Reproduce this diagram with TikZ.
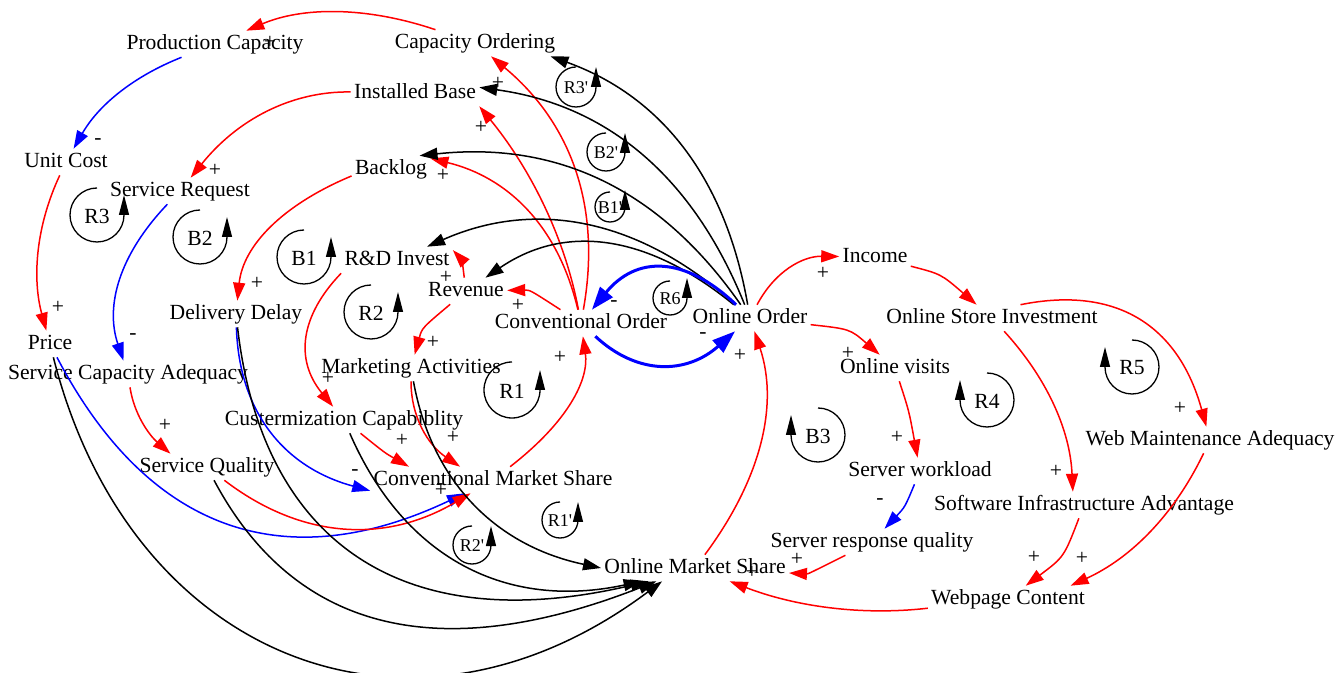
\documentclass[tikz,border=0pt]{standalone}
\usepackage{fontspec}
\setmainfont{Liberation Serif}
\usetikzlibrary{arrows.meta}
\definecolor{PosClr}{rgb}{1,0,0}
\definecolor{NegClr}{rgb}{0,0,1}

\begin{document}
\begin{tikzpicture}[x=0.5pt,y=-0.5pt,
  var/.style={inner sep=1.5pt,text height=7.5pt,text depth=2.4pt,font=\fontsize{10.8}{12}\selectfont},
  sgn/.style={inner sep=0pt,font=\fontsize{10.8}{12}\selectfont},
  lnk/.style={line width=0.75pt,-{Triangle[length=9pt,width=6pt]}},
  plink/.style={lnk,PosClr},
  nlink/.style={lnk,NegClr},
  olink/.style={lnk,black},
  thick link/.style={line width=1.5pt,NegClr,-{Triangle[length=11.5pt,width=8pt]}},
  cldloop/.style={line width=0.65pt,-{Triangle[length=10pt,width=5pt]}},
  looplab/.style={inner sep=0pt,font=\fontsize{10.8}{12}\selectfont},
  smalllab/.style={inner sep=0pt,font=\fontsize{9}{10}\selectfont}]

\useasboundingbox (0,0) rectangle (1339,673);

% variables
\node[var] (pc)   at (215,44)   {Production Capacity};
\node[var] (co)   at (475,43)   {Capacity Ordering};
\node[var] (ib)   at (415,93)   {Installed Base};
\node[var] (uc)   at (66,162)   {Unit Cost};
\node[var] (sr)   at (180,191)  {Service Request};
\node[var] (bl)   at (391,169)  {Backlog};
\node[var] (rd)   at (397,260)  {R\&D Invest};
\node[var] (rev)  at (466,291)  {Revenue};
\node[var] (cord) at (581,323)  {Conventional Order};
\node[var] (oo)   at (750,318)  {Online Order};
\node[var] (inc)  at (875,257)  {Income};
\node[var] (osi)  at (992,318)  {Online Store Investment};
\node[var] (ov)   at (895,368)  {Online visits};
\node[var] (dd)   at (236,314)  {Delivery Delay};
\node[var] (pr)   at (50,344)   {Price};
\node[var] (sca)  at (128,374)  {Service Capacity Adequacy};
\node[var] (ma)   at (411,368)  {Marketing Activities};
\node[var] (cc)   at (344,420)  {Custermization Capabiblity};
\node[var] (sq)   at (207,467)  {Service Quality};
\node[var] (cms)  at (493,480)  {Conventional Market Share};
\node[var] (wma)  at (1210,440) {Web Maintenance Adequacy};
\node[var] (sw)   at (920,471)  {Server workload};
\node[var] (sia)  at (1084,505) {Software Infrastructure Advantage};
\node[var] (srq)  at (872,542)  {Server response quality};
\node[var] (oms)  at (695,568)  {Online Market Share};
\node[var] (wc)   at (1008,599) {Webpage Content};

% links, left part
\draw[plink] (co) .. controls (365,6) and (302,7) .. (pc);
\draw[nlink] (pc) .. controls (132,77) and (98,106) .. (uc);
\draw[plink] (ib) .. controls (291,91) and (237,120) .. (sr);
\draw[plink] (uc) .. controls (36,226) and (32,278) .. (pr);
\draw[nlink] (sr) .. controls (119,255) and (105,306) .. (sca);
\draw[plink] (bl.190) .. controls (282,205) and (243,246) .. (dd);
\draw[plink] (rd.south west) .. controls (301,315) and (294,359) .. (cc);
\draw[plink] (rev) .. controls (462,260) .. (rd.10);
\draw[plink] (rev) .. controls (422,328) .. (ma);
\draw[plink] (cord) .. controls (530,290) .. (rev);
\draw[plink] (cord) .. controls (602,205) and (570,122) .. (co);
\draw[plink] (cord) .. controls (563,229) and (525,162) .. (ib.south east);
\draw[plink] (cord) .. controls (558,225) and (507,177) .. (bl.15);
\draw[olink] (oo) .. controls (726,180) and (663,97) .. (co.-10);
\draw[olink] (oo) .. controls (693,176) and (607,105) .. (ib.5);
\draw[olink] (oo) .. controls (660,189) and (557,141) .. (bl.25);
\draw[olink] (oo) .. controls (639,218) and (535,199) .. (rd);
\draw[olink] (oo) .. controls (646,233) and (564,224) .. (rev);
\draw[thick link] (oo) .. controls (684,255) and (636,256) .. (cord);
\draw[thick link] (cord) .. controls (638,376) and (687,374) .. (oo);

% links, right part
\draw[plink] (oo) .. controls (775,271) and (803,256) .. (inc);
\draw[plink] (inc) .. controls (941,274) .. (osi);
\draw[plink] (oo) .. controls (850,329) .. (ov);
\draw[plink] (osi.25) .. controls (1118,285) and (1179,327) .. (wma);
\draw[plink] (osi) .. controls (1046,377) and (1070,429) .. (sia.130);
\draw[plink] (ov) .. controls (909,411) .. (sw);
\draw[nlink] (sw) .. controls (905,507) .. (srq);
\draw[plink] (srq) .. controls (808,574) .. (oms);
\draw[plink] (sia) .. controls (1064,557) .. (wc);
\draw[plink] (wma) .. controls (1174,515) and (1131,558) .. (wc.12);
\draw[plink] (wc) .. controls (860,616) and (794,606) .. (oms);
\draw[plink] (oms) .. controls (761,479) and (779,405) .. (oo);

% links into the market shares
\draw[plink] (cms) .. controls (569,421) and (589,379) .. (cord);
\draw[plink] (ma) .. controls (411,417) and (428,445) .. (cms.158);
\draw[plink] (cc) .. controls (385,453) .. (cms.171);
\draw[plink] (sca) .. controls (134,414) and (149,435) .. (sq.160);
\draw[nlink] (dd) .. controls (239,414) and (286,468) .. (cms.185);
\draw[nlink] (pr) .. controls (149,533) and (286,578) .. (cms);
\draw[plink] (sq) .. controls (301,539) and (385,544) .. (cms);
\draw[olink] (ma) .. controls (432,483) and (497,546) .. (oms.west);
\draw[olink] (cc) .. controls (405,560) and (508,610) .. (oms.194);
\draw[olink] (dd) .. controls (262,540) and (400,640) .. (oms.196);
\draw[olink] (sq) .. controls (291,625) and (430,670) .. (oms.199);
\draw[olink] (pr) .. controls (130,660) and (410,770) .. (oms.202);

% polarities
\node[sgn] (sg1)  at (270,42)  {+};
\node[sgn] (sg2)  at (98,142)  {-};
\node[sgn] (sg3)  at (215,170) {+};
\node[sgn] (sg4)  at (443,175) {+};
\node[sgn] (sg5)  at (58,307)  {+};
\node[sgn] (sg6)  at (133,337) {-};
\node[sgn] (sg7)  at (257,283) {+};
\node[sgn] (sg8)  at (328,378) {+};
\node[sgn] (sg9)  at (165,425) {+};
\node[sgn] (sg10) at (446,277) {+};
\node[sgn] (sg11) at (433,342) {+};
\node[sgn] (sg12) at (518,305) {+};
\node[sgn] (sg13) at (560,357) {+};
\node[sgn] (sg14) at (614,304) {-};
\node[sgn] (sg15) at (703,336) {-};
\node[sgn] (sg16) at (740,355) {+};
\node[sgn] (sg17) at (823,273) {+};
\node[sgn] (sg18) at (848,353) {+};
\node[sgn] (sg19) at (498,83)  {+};
\node[sgn] (sg20) at (481,127) {+};
\node[sgn] (sg21) at (453,437) {+};
\node[sgn] (sg22) at (402,440) {+};
\node[sgn] (sg23) at (355,473) {-};
\node[sgn] (sg24) at (440,487) {-};
\node[sgn] (sg25) at (441,490) {+};
\node[sgn] (sg26) at (897,437) {+};
\node[sgn] (sg27) at (880,502) {-};
\node[sgn] (sg28) at (797,559) {+};
\node[sgn] (sg29) at (752,572) {+};
\node[sgn] (sg30) at (1180,408) {+};
\node[sgn] (sg31) at (1056,471) {+};
\node[sgn] (sg32) at (1034,557) {+};
\node[sgn] (sg33) at (1082,558) {+};

% loop markers
\draw[cldloop] (97,188) arc[start angle=-90,end angle=-360,radius=27] -- ++(0,-20);
\node[looplab] (lr3) at (97,216) {R3};
\draw[cldloop] (200,210) arc[start angle=-90,end angle=-360,radius=27] -- ++(0,-20);
\node[looplab] (lb2) at (200,238) {B2};
\draw[cldloop] (304,230) arc[start angle=-90,end angle=-360,radius=27] -- ++(0,-20);
\node[looplab] (lb1) at (304,258) {B1};
\draw[cldloop] (371,285) arc[start angle=-90,end angle=-360,radius=27] -- ++(0,-20);
\node[looplab] (lr2) at (371,313) {R2};
\draw[cldloop] (512,362) arc[start angle=-90,end angle=-360,radius=28] -- ++(0,-20);
\node[looplab] (lr1) at (512,391) {R1};
\draw[cldloop] (818,408) arc[start angle=-90,end angle=180,radius=27] -- ++(0,-20);
\node[looplab] (lb3) at (818,436) {B3};
\draw[cldloop] (987,373) arc[start angle=-90,end angle=180,radius=27] -- ++(0,-20);
\node[looplab] (lr4) at (987,401) {R4};
\draw[cldloop] (1132,340) arc[start angle=-90,end angle=180,radius=27] -- ++(0,-20);
\node[looplab] (lr5) at (1132,368) {R5};
\draw[cldloop] (576,67) arc[start angle=-90,end angle=-360,radius=20] -- ++(0,-20);
\node[smalllab] (lr3b) at (576,88) {R3\textquotesingle};
\draw[cldloop] (606,133) arc[start angle=-90,end angle=-360,radius=19] -- ++(0,-19);
\node[smalllab] (lb2b) at (606,153) {B2\textquotesingle};
\draw[cldloop] (610,192) arc[start angle=-90,end angle=-360,radius=15] -- ++(0,-17);
\node[smalllab] (lb1b) at (610,208) {B1\textquotesingle};
\draw[cldloop] (670,281) arc[start angle=-90,end angle=-360,radius=17] -- ++(0,-20);
\node[smalllab] (lr6) at (670,299) {R6};
\draw[cldloop] (560,502) arc[start angle=-90,end angle=-360,radius=18] -- ++(0,-18);
\node[smalllab] (lr1b) at (560,521) {R1\textquotesingle};
\draw[cldloop] (472,526) arc[start angle=-90,end angle=-360,radius=19] -- ++(0,-19);
\node[smalllab] (lr2b) at (472,546) {R2\textquotesingle};

\end{tikzpicture}
\end{document}
